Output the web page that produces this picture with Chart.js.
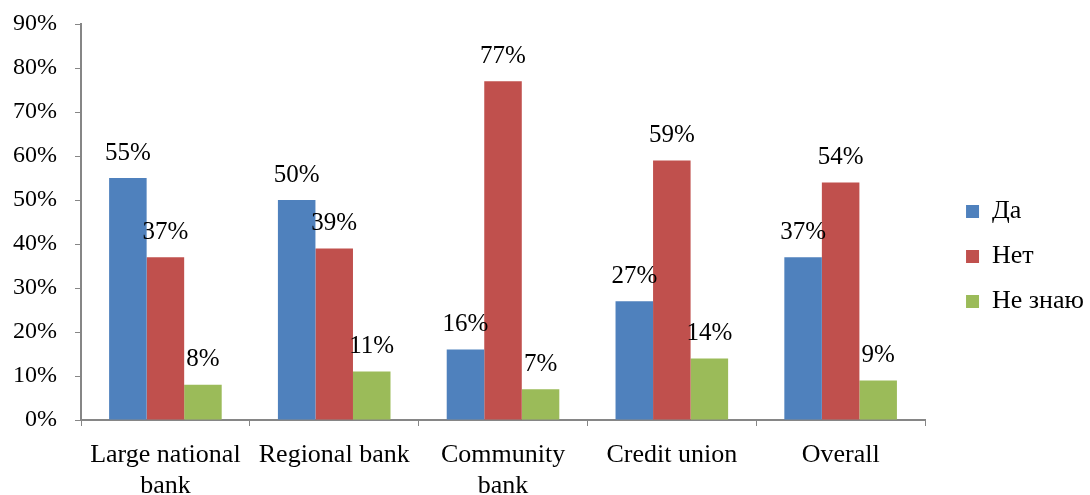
<!DOCTYPE html>
<html>
<head>
<meta charset="utf-8">
<script src="https://cdn.jsdelivr.net/npm/chart.js@4.4.1/dist/chart.umd.min.js"></script>
<style>
  html, body { margin: 0; padding: 0; background: #fff; }
  #wrap { width: 1090px; height: 495px; position: relative; }
</style>
</head>
<body>
<div id="wrap"><canvas id="c" width="1090" height="495"></canvas></div>
<script>
// Bank categories (multi-line labels where the text wraps)
const categories = [['Large national', 'bank'], 'Regional bank', ['Community', 'bank'], 'Credit union', 'Overall'];

// Answers in percent
const yesValues = [55, 50, 16, 27, 37];
const noValues = [37, 39, 77, 59, 54];
const dontKnowValues = [8, 11, 7, 14, 9];

const seriesNames = ['Да', 'Нет', 'Не знаю'];
const seriesColors = ['#4F81BD', '#C0504D', '#9BBB59'];

const yTicks = [0, 10, 20, 30, 40, 50, 60, 70, 80, 90];

const FONT = '"Liberation Serif", "Times New Roman", serif';

// Moves the legend block away from the plot and slightly up
const legendShift = {
  id: 'legendShift',
  afterLayout(chart) {
    const lg = chart.legend;
    if (lg) {
      lg.top -= 3; lg.bottom -= 3;
      lg.left += 22; lg.right += 22;
    }
  }
};

// Draws the value above each bar
const valueLabels = {
  id: 'valueLabels',
  afterDatasetsDraw(chart) {
    const ctx = chart.ctx;
    ctx.save();
    ctx.font = '25px ' + FONT;
    ctx.fillStyle = '#000';
    ctx.textAlign = 'center';
    ctx.textBaseline = 'middle';
    chart.data.datasets.forEach((ds, i) => {
      const meta = chart.getDatasetMeta(i);
      meta.data.forEach((bar, j) => {
        ctx.fillText(ds.data[j] + '%', bar.x, bar.y - 25);
      });
    });
    ctx.restore();
  }
};

new Chart(document.getElementById('c'), {
  type: 'bar',
  data: {
    labels: categories,
    datasets: [
      { label: seriesNames[0], data: yesValues, backgroundColor: seriesColors[0] },
      { label: seriesNames[1], data: noValues, backgroundColor: seriesColors[1] },
      { label: seriesNames[2], data: dontKnowValues, backgroundColor: seriesColors[2] }
    ]
  },
  options: {
    responsive: false,
    animation: false,
    layout: { padding: { top: 24, left: 0, right: 18, bottom: 0 } },
    datasets: { bar: { categoryPercentage: 0.667, barPercentage: 1.0 } },
    scales: {
      x: {
        afterFit(scale) { scale.height = 75; scale.paddingLeft = 0; scale.paddingRight = 0; },
        grid: { drawOnChartArea: false, drawTicks: true, tickLength: 6, color: '#868686', offset: true },
        border: { color: '#868686', width: 2 },
        ticks: { color: '#000', font: { family: FONT, size: 26, lineHeight: 1.19 }, padding: 14, maxRotation: 0, autoSkip: false }
      },
      y: {
        min: 0, max: 90,
        afterBuildTicks(axis) { axis.ticks = yTicks.map(v => ({ value: v })); },
        afterFit(scale) { scale.width = 81; scale.paddingTop = 0; scale.paddingBottom = 0; },
        grid: { drawOnChartArea: false, drawTicks: true, tickLength: 6, color: '#868686' },
        border: { color: '#868686', width: 2 },
        ticks: { color: '#000', font: { family: FONT, size: 24 }, padding: 18, callback: v => v + '%' }
      }
    },
    plugins: {
      tooltip: { enabled: false },
      legend: {
        position: 'right',
        labels: {
          color: '#000',
          font: { family: FONT, size: 26 },
          boxWidth: 13, boxHeight: 13,
          padding: 19
        }
      }
    }
  },
  plugins: [legendShift, valueLabels]
});
</script>
</body>
</html>
